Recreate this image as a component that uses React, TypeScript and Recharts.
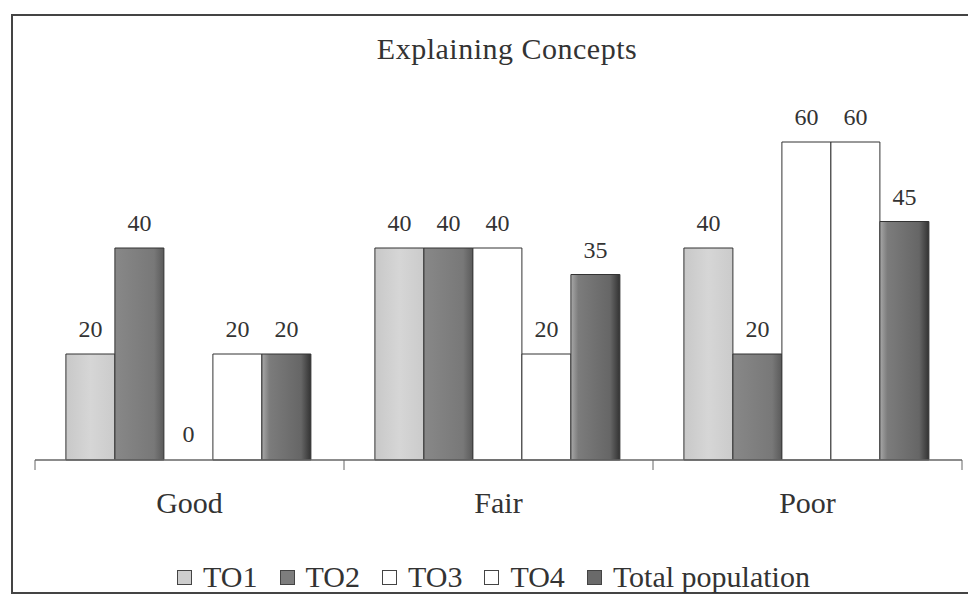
import { BarChart, Bar, XAxis, YAxis, LabelList, Legend, Rectangle } from 'recharts';

const categories = ['Good', 'Fair', 'Poor'];
const to1 = [20, 40, 40];
const to2 = [40, 40, 20];
const to3 = [0, 40, 60];
const to4 = [20, 20, 60];
const totalPopulation = [20, 35, 45];

const SERIES = [
  { key: 'to1', label: 'TO1', fill: 'url(#gTo1)', swatch: '#cdcdcd' },
  { key: 'to2', label: 'TO2', fill: 'url(#gTo2)', swatch: '#7d7d7d' },
  { key: 'to3', label: 'TO3', fill: '#ffffff', swatch: '#ffffff' },
  { key: 'to4', label: 'TO4', fill: '#ffffff', swatch: '#ffffff' },
  { key: 'total', label: 'Total population', fill: 'url(#gTotal)', swatch: '#6a6a6a' },
];

const data = categories.map((name, i) => ({
  name,
  to1: to1[i],
  to2: to2[i],
  to3: to3[i],
  to4: to4[i],
  total: totalPopulation[i],
}));

const W = 968;
const H = 590;
const MARGIN = { top: 81, right: 14, left: 27, bottom: 1 };
const BAND = (W - MARGIN.left - MARGIN.right) / categories.length;
const FONT = '"Liberation Serif", "Times New Roman", serif';

const CategoryTick = (props: any) => {
  const { x, y, payload, index } = props;
  const last = index === categories.length - 1;
  return (
    <g>
      <line x1={x - BAND / 2} y1={y} x2={x - BAND / 2} y2={y + 10} stroke="#666" />
      {last && <line x1={x + BAND / 2} y1={y} x2={x + BAND / 2} y2={y + 10} stroke="#666" />}
      <text x={x} y={y + 53} textAnchor="middle" fontSize={30} fontFamily={FONT} fill="#333">
        {payload.value}
      </text>
    </g>
  );
};

// value labels drawn by hand so that the 0 bar still gets one
const ValueLabel = (props: any) => {
  const { x, y, width, value } = props;
  return (
    <text x={x + width / 2} y={y - 17} textAnchor="middle" fontSize={24} fontFamily={FONT} fill="#333">
      {value}
    </text>
  );
};

// minPointSize keeps zero bars around for their label; don't paint them
const BarShape = (props: any) => {
  if (props.value === 0) return <g />;
  return <Rectangle {...props} />;
};

const LegendContent = () => (
  <div
    style={{
      height: 40,
      display: 'flex',
      justifyContent: 'center',
      alignItems: 'center',
      fontFamily: FONT,
      fontSize: 30,
      color: '#333',
      paddingLeft: 12,
    }}
  >
    {SERIES.map((s) => (
      <span key={s.key} style={{ display: 'flex', alignItems: 'center', marginRight: 22 }}>
        <span
          style={{
            width: 13,
            height: 13,
            background: s.swatch,
            border: '1px solid #444',
            marginRight: 11,
          }}
        />
        {s.label}
      </span>
    ))}
  </div>
);

export default function App() {
  return (
    <div style={{ position: 'relative', width: W, height: H, overflow: 'hidden', background: '#fff' }}>
      <div
        style={{
          position: 'absolute',
          left: 3,
          top: 6,
          width: 1000,
          height: 580,
          border: '2px solid #444',
          boxSizing: 'border-box',
        }}
      />
      <div
        style={{
          position: 'absolute',
          left: 499,
          top: 24,
          transform: 'translateX(-50%)',
          fontFamily: FONT,
          fontSize: 30,
          letterSpacing: 0.5,
          color: '#333',
          whiteSpace: 'nowrap',
        }}
      >
        Explaining Concepts
      </div>
      <div style={{ position: 'absolute', left: 0, top: 0 }}>
        <BarChart width={W} height={H} data={data} margin={MARGIN} barCategoryGap="10%" barGap={0}>
          <defs>
            <linearGradient id="gTo1" x1="0" y1="0" x2="1" y2="0">
              <stop offset="0%" stopColor="#c8c8c8" />
              <stop offset="50%" stopColor="#d6d6d6" />
              <stop offset="100%" stopColor="#cbcbcb" />
            </linearGradient>
            <linearGradient id="gTo2" x1="0" y1="0" x2="1" y2="0">
              <stop offset="0%" stopColor="#888" />
              <stop offset="80%" stopColor="#787878" />
              <stop offset="100%" stopColor="#5a5a5a" />
            </linearGradient>
            <linearGradient id="gTotal" x1="0" y1="0" x2="1" y2="0">
              <stop offset="0%" stopColor="#a8a8a8" />
              <stop offset="15%" stopColor="#7c7c7c" />
              <stop offset="80%" stopColor="#666" />
              <stop offset="100%" stopColor="#333" />
            </linearGradient>
          </defs>
          <XAxis
            dataKey="name"
            height={97}
            axisLine={{ stroke: '#666', strokeWidth: 1.5 }}
            tickLine={false}
            tickSize={0}
            tickMargin={0}
            tick={<CategoryTick />}
            interval={0}
          />
          <YAxis hide domain={[0, 70]} />
          <Legend verticalAlign="bottom" content={<LegendContent />} />
          {SERIES.map((s) => (
            <Bar
              key={s.key}
              dataKey={s.key}
              name={s.label}
              fill={s.fill}
              stroke="#333"
              strokeWidth={1}
              minPointSize={1}
              shape={<BarShape />}
              isAnimationActive={false}
            >
              <LabelList dataKey={s.key} content={<ValueLabel />} />
            </Bar>
          ))}
        </BarChart>
      </div>
    </div>
  );
}
